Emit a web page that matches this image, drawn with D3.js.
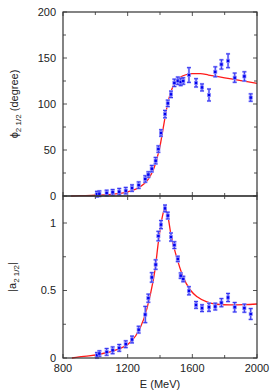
<!DOCTYPE html>
<html>
<head>
<meta charset="utf-8">
<script src="https://cdn.jsdelivr.net/npm/d3@7"></script>
<style>
  body { margin: 0; background: #fff; }
  svg { font-family: "Liberation Sans", Arial, sans-serif; }
</style>
</head>
<body>
<svg id="chart" width="274" height="392"></svg>
<script>
// measured points (shared energies for both panels)
const energies = [1010, 1025, 1070, 1107, 1148, 1188, 1227, 1268, 1309, 1328, 1349, 1373, 1390, 1406, 1431, 1448,
  1468, 1489, 1510, 1528, 1544, 1579, 1623, 1660, 1703, 1742, 1780, 1821, 1862, 1922, 1961];
const phiValues = [2, 2.5, 3.3, 4, 4.7, 5.8, 8.6, 11.8, 18.5, 23.3, 29.7, 38.4, 51, 68.5, 89, 100.7,
  110.5, 123, 125.3, 124, 125, 131.5, 123, 118, 109.8, 135, 143, 147, 128.6, 130, 107];
const phiErrors = [3, 3, 3, 3, 3.5, 3.5, 3.5, 3.5, 3.5, 3, 3.5, 3.5, 3.5, 3.5, 4, 3.5,
  3.5, 4, 4, 4, 3.5, 8, 4.5, 3.8, 6.5, 5.4, 5, 7.5, 5, 5, 4];
const ampValues = [0.02, 0.033, 0.045, 0.057, 0.075, 0.102, 0.137, 0.21, 0.322, 0.443, 0.597, 0.692, 0.903, 0.988, 1.108, 1.055,
  0.896, 0.836, 0.734, 0.61, 0.585, 0.498, 0.393, 0.369, 0.376, 0.381, 0.41, 0.448, 0.376, 0.369, 0.326];
const ampErrors = [0.02, 0.02, 0.025, 0.025, 0.025, 0.025, 0.025, 0.025, 0.06, 0.03, 0.035, 0.035, 0.035, 0.03, 0.025, 0.025,
  0.03, 0.025, 0.02, 0.02, 0.02, 0.03, 0.025, 0.025, 0.03, 0.025, 0.03, 0.03, 0.035, 0.03, 0.04];

// fit curves
const phiFitE = [850, 900, 1000, 1100, 1200, 1250, 1300, 1330, 1360, 1380, 1400, 1420, 1440, 1460, 1480, 1500,
  1530, 1560, 1600, 1650, 1700, 1800, 1900, 2000];
const phiFit = [0, 0.3, 0.8, 1.8, 4.5, 7.5, 13, 19, 29, 40, 54, 74, 94, 109, 119, 125,
  129.5, 131.8, 133, 133, 131.5, 128.5, 125.5, 122.5];
const ampFitE = [855, 900, 960, 1060, 1150, 1200, 1250, 1300, 1340, 1370, 1390, 1410, 1425, 1432, 1445, 1470,
  1500, 1540, 1590, 1630, 1690, 1750, 1830, 1920, 2000];
const ampFit = [0, 0.008, 0.015, 0.037, 0.07, 0.1, 0.165, 0.29, 0.47, 0.66, 0.86, 1.02, 1.095, 1.105, 1.07, 0.9,
  0.76, 0.61, 0.5, 0.453, 0.415, 0.398, 0.393, 0.395, 0.4];

const xMajor = [800, 1200, 1600, 2000];
const xMinor = [1000, 1400, 1800];
const phiMajor = [0, 50, 100, 150, 200];
const phiMinor = [25, 75, 125, 175];
const ampMajor = [0, 0.5, 1];
const ampMinor = [0.25, 0.75];

const svg = d3.select("#chart");
const left = 63, right = 257;
const x = d3.scaleLinear().domain([800, 2000]).range([left, right]);

const panels = [
  { y: d3.scaleLinear().domain([0, 200]).range([196, 12]), vals: phiValues, errs: phiErrors,
    fitE: phiFitE, fit: phiFit, major: phiMajor, minor: phiMinor, xLabels: false },
  { y: d3.scaleLinear().domain([0, 1.2]).range([358, 196]), vals: ampValues, errs: ampErrors,
    fitE: ampFitE, fit: ampFit, major: ampMajor, minor: ampMinor, xLabels: true }
];

panels.forEach(p => {
  const y = p.y;
  const top = y.range()[1], bottom = y.range()[0];
  const g = svg.append("g");

  // inward ticks on all four sides
  const tickCol = "#555";
  const ticksY = p.major.map(v => ({ v, len: 4 })).concat(p.minor.map(v => ({ v, len: 3 })));
  ticksY.forEach(t => {
    g.append("line").attr("x1", left).attr("x2", left + t.len).attr("y1", y(t.v)).attr("y2", y(t.v))
      .attr("stroke", tickCol);
    g.append("line").attr("x1", right).attr("x2", right - t.len).attr("y1", y(t.v)).attr("y2", y(t.v))
      .attr("stroke", tickCol);
  });
  const ticksX = xMajor.map(v => ({ v, len: 4 })).concat(xMinor.map(v => ({ v, len: 3 })));
  ticksX.forEach(t => {
    g.append("line").attr("x1", x(t.v)).attr("x2", x(t.v)).attr("y1", bottom).attr("y2", bottom - t.len)
      .attr("stroke", tickCol);
    g.append("line").attr("x1", x(t.v)).attr("x2", x(t.v)).attr("y1", top).attr("y2", top + t.len)
      .attr("stroke", tickCol);
  });

  // y tick labels
  g.selectAll(".ylab").data(p.major).join("text")
    .attr("x", left - 7).attr("y", d => y(d)).attr("dy", "0.35em")
    .attr("text-anchor", "end").attr("font-size", 11).attr("fill", "#222")
    .text(d => d);

  if (p.xLabels) {
    g.selectAll(".xlab").data(xMajor).join("text")
      .attr("x", d => x(d)).attr("y", bottom + 14)
      .attr("text-anchor", "middle").attr("font-size", 11).attr("fill", "#222")
      .text(d => d);
  }

  // fit curve
  const line = d3.line().x((d, i) => x(p.fitE[i])).y(d => y(d)).curve(d3.curveMonotoneX);
  g.append("path").datum(p.fit).attr("d", line)
    .attr("fill", "none").attr("stroke", "#ff1a1a").attr("stroke-width", 1.3);

  // error bars
  const pts = energies.map((e, i) => ({ e, v: p.vals[i], err: p.errs[i] }));
  [{ col: "#b0b0ff", w: 2.2 }, { col: "#2a2aee", w: 0.9 }].forEach(s => {
    const eb = g.append("g").attr("stroke", s.col).attr("stroke-width", s.w).attr("fill", "none");
    pts.forEach(d => {
      const cx = x(d.e), y0 = y(d.v - d.err), y1 = y(d.v + d.err);
      eb.append("line").attr("x1", cx).attr("x2", cx).attr("y1", y0).attr("y2", y1);
      eb.append("line").attr("x1", cx - 2).attr("x2", cx + 2).attr("y1", y0).attr("y2", y0);
      eb.append("line").attr("x1", cx - 2).attr("x2", cx + 2).attr("y1", y1).attr("y2", y1);
    });
  });

  // markers
  g.selectAll(".pt").data(pts).join("rect")
    .attr("x", d => x(d.e) - 1.6).attr("y", d => y(d.v) - 1.6)
    .attr("width", 3.2).attr("height", 3.2)
    .attr("fill", "#0000ee").attr("stroke", "#9090ff").attr("stroke-width", 0.7);

  // frame
  g.append("rect").attr("x", left).attr("y", top).attr("width", right - left).attr("height", bottom - top)
    .attr("fill", "none").attr("stroke", "#333").attr("stroke-width", 1.2);
});

// axis titles
const t1 = svg.append("text").attr("transform", "translate(18,104) rotate(-90)")
  .attr("text-anchor", "middle").attr("font-size", 11).attr("fill", "#222");
t1.append("tspan").text("ϕ");
t1.append("tspan").attr("font-size", 8).attr("dy", 3).text("2 1/2");
t1.append("tspan").attr("dy", -3).text(" (degree)");

const t2 = svg.append("text").attr("transform", "translate(16,277) rotate(-90)")
  .attr("text-anchor", "middle").attr("font-size", 11).attr("fill", "#222");
t2.append("tspan").text("|a");
t2.append("tspan").attr("font-size", 8).attr("dy", 3).text("2 1/2");
t2.append("tspan").attr("dy", -3).text("|");

svg.append("text").attr("x", (left + right) / 2).attr("y", 388)
  .attr("text-anchor", "middle").attr("font-size", 11).attr("fill", "#222")
  .text("E (MeV)");
</script>
</body>
</html>
